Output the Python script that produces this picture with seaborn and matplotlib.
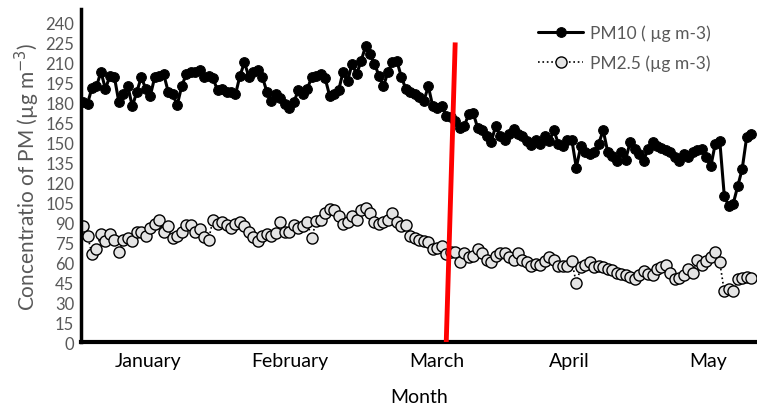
import numpy as np
import pandas as pd
import matplotlib
matplotlib.use("Agg")
import matplotlib.pyplot as plt
import seaborn as sns

# -------------------------
# Data (one value per day)
# -------------------------
pm10 = [180, 179, 191, 192, 203, 190, 200, 199, 180, 186, 192, 177, 188, 199, 190, 185, 199, 200, 201, 188,
        186, 178, 192, 201, 203, 203, 204, 199, 200, 198, 189, 190, 188, 188, 186, 200, 210, 199, 203, 204,
        199,
        188, 181, 186, 183, 179, 176, 180, 189, 186, 190, 199, 200, 201, 198, 185, 186, 189, 203, 196, 209,
        201, 211, 222, 216, 209, 200, 192, 203, 210, 211, 199, 190, 188, 186, 184, 181, 192, 177, 176, 177,
        170, 169,
        166, 161, 162, 171, 172, 161, 159, 155, 150, 162, 155, 152, 156, 160, 156, 155, 151, 148, 152, 149,
        155, 151, 159, 149, 147, 152, 152, 131, 147, 143, 141, 143, 149, 159, 143, 140, 136, 143, 137,
        150, 145, 141, 136, 145, 150, 147, 146, 144, 143, 139, 136, 141, 139, 143, 144, 145, 139, 132, 149,
        151, 110, 102, 104, 117, 130, 154, 156]

pm25 = [87, 80, 66, 70, 81, 76, 81, 77, 68, 77, 78, 76, 83, 83, 80, 86, 89, 92, 83, 87,
        78, 80, 83, 88, 88, 83, 85, 79, 77, 92, 89, 90, 88, 86, 89, 90, 87, 83, 79, 76,
        80, 81, 80,
        82, 90, 83, 83, 88, 86, 87, 90, 78, 91, 92, 97, 100, 99, 95, 89, 90, 95, 92, 99,
        101, 97, 90, 89, 90, 92, 97, 90, 87, 88, 80, 78, 77, 76, 75, 70, 71, 72, 66, 68,
        68, 60, 67, 64, 65, 70, 67, 62, 60, 65, 67, 67, 64, 62, 67, 62, 60, 57, 59, 58,
        61, 64, 62, 57, 57, 57, 61, 44, 56, 58, 60, 56, 57, 56, 55, 54, 52, 51,
        50, 49, 47, 50, 53, 51, 50, 55, 56, 58, 52, 47, 48, 50, 55, 52, 62, 58, 61, 64,
        68, 60, 38, 40, 38, 47, 48, 49, 48]

months = ["January", "February", "March", "April", "May"]
month_pos = [14.5, 46.2, 79, 108.5, 139.3]

# red marker line (day index, concentration)
red_x = [81, 83]
red_y = [0, 225]

day = np.arange(len(pm10))
df = pd.DataFrame({"day": day, "pm10": pm10, "pm25": pm25})

# -------------------------
# Plot
# -------------------------
sns.set_style("white")
plt.rcParams["font.family"] = ["Lato", "DejaVu Sans"]

fig = plt.figure(figsize=(7.57, 4.06), dpi=100)
ax = fig.add_axes([0.107, 0.155, 0.893, 0.82])

grey = "#595959"

sns.lineplot(data=df, x="day", y="pm10", ax=ax, color="black", linewidth=2.2,
             marker="o", markersize=7, markerfacecolor="black", markeredgecolor="black",
             label="PM10 ( µg m-3)")
sns.lineplot(data=df, x="day", y="pm25", ax=ax, color="black", linewidth=1.2,
             linestyle=":", marker="o", markersize=8, markerfacecolor="#e4e4e4",
             markeredgecolor="black", markeredgewidth=1.0,
             label="PM2.5 (µg m-3)")

ax.plot(red_x, red_y, color="red", linewidth=3.5, solid_capstyle="butt", zorder=5)

ax.set_xlim(-0.45, 150.3)
ax.set_ylim(0, 250)
ax.set_yticks(np.arange(0, 241, 15))
ax.set_yticks(np.arange(0, 250, 3), minor=True)
ax.set_xticks(month_pos)
ax.set_xticklabels(months, fontsize=14, color="black")
ax.tick_params(axis="x", length=0, pad=7)
ax.tick_params(axis="y", which="major", direction="inout", length=6, width=1.2,
               labelsize=12, colors="black", pad=2)
ax.tick_params(axis="y", which="minor", direction="inout", length=5, width=1.0, colors="black")
ax.tick_params(axis="y", labelcolor=grey)

for s in ["top", "right"]:
    ax.spines[s].set_visible(False)
ax.spines["left"].set_linewidth(2.5)
ax.spines["bottom"].set_linewidth(3)
ax.spines["left"].set_color("black")
ax.spines["bottom"].set_color("black")

ax.set_xlabel("Month", fontsize=14, color="black", labelpad=14)
ax.set_ylabel("Concentratio of PM (µg m$^{-3}$)", fontsize=15, color=grey, labelpad=2)

leg = ax.legend(loc="upper right", bbox_to_anchor=(0.955, 1.0), frameon=False,
                fontsize=12.5, handlelength=2.6, handletextpad=0.4, labelspacing=0.75)
for t in leg.get_texts():
    t.set_color(grey)

fig.savefig("out.png", dpi=100)
